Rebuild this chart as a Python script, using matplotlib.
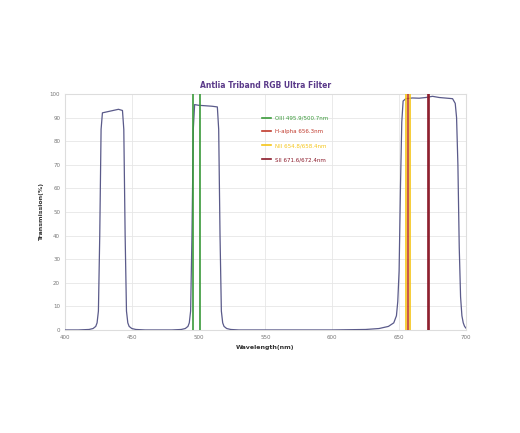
import matplotlib.pyplot as plt

# transmission curve
wavelength = [400, 410, 418, 421, 423, 424, 425, 426, 427, 428, 432, 436, 440, 443, 444, 445, 446,
              447, 448, 450, 453, 460, 480, 487, 490, 492, 493, 494, 495, 496, 497, 500, 505, 510,
              514, 515, 516, 517, 518, 519, 521, 524, 530, 560, 600, 625, 635, 642, 646, 648, 649,
              650, 651, 652, 653, 655, 660, 665, 670, 675, 680, 690, 692, 693, 694, 695, 696, 697,
              698, 699, 700]
transmission = [0, 0, 0.2, 0.6, 1.5, 3, 8, 40, 85, 92, 92.5, 93, 93.5, 93, 85, 40, 8,
                3, 1.5, 0.6, 0.2, 0, 0, 0.2, 0.6, 1.5, 3, 8, 40, 85, 95.5, 95.2, 95, 94.8,
                94.5, 85, 40, 8, 3, 1.5, 0.6, 0.2, 0, 0, 0, 0.2, 0.6, 1.5, 3, 6, 12,
                25, 60, 88, 97, 98, 98.3, 98.2, 98.5, 99, 98.5, 98, 96, 90, 70,
                35, 14, 6, 3, 1.5, 0.8]

line_labels = ["OIII 495.9/500.7nm", "H-alpha 656.3nm", "NII 654.8/658.4nm", "SII 671.6/672.4nm"]
line_waves = [[495.9, 500.7], [656.3], [654.8, 658.4], [671.6, 672.4]]
line_colors = ["#3a9a3a", "#c0392b", "#f5c518", "#8b1a2a"]

fig = plt.figure(figsize=(5.2, 4.33), dpi=100)
ax = fig.add_axes([0.125, 0.238, 0.771, 0.545])

ax.plot(wavelength, transmission, color="#5a5a8a", lw=0.9, zorder=3)
for lab, waves, col in zip(line_labels, line_waves, line_colors):
    for i, w in enumerate(waves):
        ax.axvline(w, color=col, lw=1.2, zorder=4, label=lab if i == 0 else None)

ax.set_xlim(400, 700)
ax.set_ylim(0, 100)
ax.set_xticks(range(400, 701, 50))
ax.set_yticks(range(0, 101, 10))
ax.grid(color="#e6e6e6", lw=0.6)
for s in ax.spines.values():
    s.set_color("#dddddd")
ax.tick_params(labelsize=4, colors="#777777", length=0)
ax.set_xlabel("Wavelength(nm)", fontsize=4.5, fontweight="bold", color="#333333")
ax.set_ylabel("Transmission(%)", fontsize=4.5, fontweight="bold", color="#333333")
ax.set_title("Antlia Triband RGB Ultra Filter", fontsize=5.5, fontweight="bold", color="#5b3a8a", pad=4)

leg = ax.legend(loc="upper left", bbox_to_anchor=(0.48, 0.93), fontsize=4, frameon=False,
                handlelength=1.5, labelspacing=1.6)
for t, c in zip(leg.get_texts(), line_colors):
    t.set_color(c)

fig.savefig("out.png", dpi=100)
